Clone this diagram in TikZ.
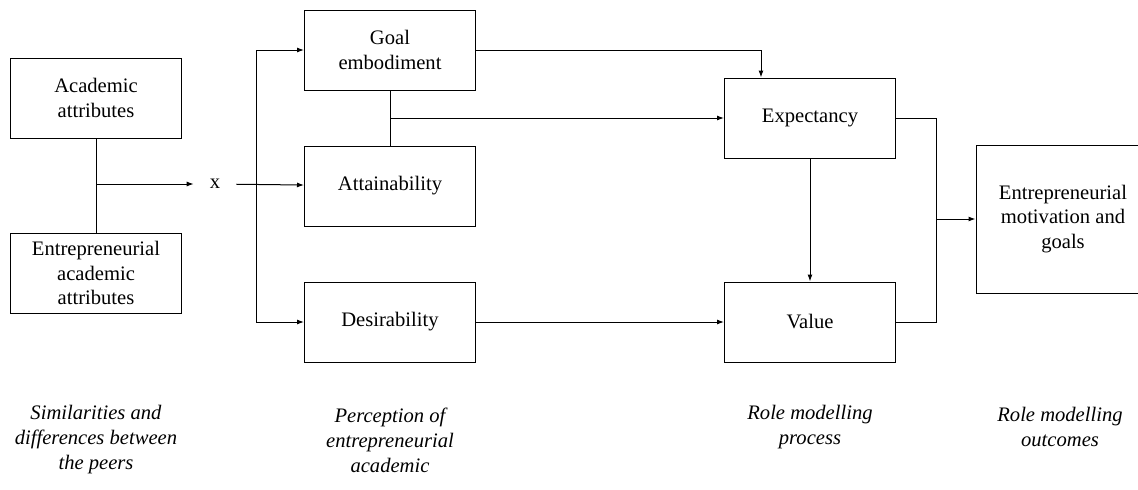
\documentclass[tikz,border=0pt]{standalone}
\usepackage{fontspec}
\setmainfont{Liberation Serif}
\usetikzlibrary{arrows.meta}
\begin{document}
\begin{tikzpicture}
[x=1pt,y=-1pt,
 boxdecorate/.style={shape=rectangle,draw,line width=1pt,minimum width=171pt,
   minimum height=80pt,align=center,font=\fontsize{20.6}{24.5}\selectfont},
 linedecorate/.style={-,line width=1pt},
 arrowdecorate/.style={-{Latex[length=7pt,width=5pt]},line width=1pt},
 labeldecorate/.style={align=center,font=\fontsize{20.6}{25}\selectfont\itshape}]
\useasboundingbox (0,0) rectangle (1138,490);
%%
%% boxes
\foreach \nodename/\x/\y/\nodetext in {academic/96/98/{Academic\\attributes},
  entrepreneurial/96/273/{Entrepreneurial\\academic\\attributes},
  goal/390/50/{Goal\\embodiment}, attain/390/186/{Attainability},
  desire/390/322/{Desirability}, expect/810/118/{Expectancy},
  value/810/322/{Value}} {
  \node (\nodename) at (\x,\y) [boxdecorate] {\nodetext};
}
\node (outcome) at (1063,219) [boxdecorate,minimum width=174pt,minimum height=148pt]
  {Entrepreneurial\\motivation and\\goals};
\node (cross) at (215,184) [font=\fontsize{20.6}{24}\selectfont,inner xsep=16pt] {x};
%%
%% junctions
\coordinate (bustop) at (256,50);
\coordinate (busbot) at (256,322);
\coordinate (gajoin) at (390,118);
\coordinate (goalturn) at (761,50);
\coordinate (merge) at (936,219);
%%
%% lines
\draw[linedecorate] (academic.south) -- (entrepreneurial.north);
\draw[linedecorate] (bustop) -- (busbot);
\draw[linedecorate] (goal.south) -- (attain.north);
\draw[linedecorate] (expect.east) -| (merge);
\draw[linedecorate] (value.east) -| (merge);
%% arrows
\path
\foreach \startnode/\endnode in {academic.south |- cross/cross, cross/attain,
  bustop/goal, busbot/desire, gajoin/expect.west, desire/value,
  expect/value, merge/outcome.west} {
  (\startnode) edge[arrowdecorate] (\endnode)
};
\draw[arrowdecorate] (goal.east) -- (goalturn) -- (goalturn |- expect.north);
%%
%% stage labels
\foreach \nodename/\x/\y/\nodetext in {similar/96/440/{Similarities and\\differences between\\the peers},
  percept/390/440/{Perception of\\entrepreneurial\\academic},
  process/810/427/{Role modelling\\process},
  outcomes/1060/427/{Role modelling\\outcomes}} {
  \node (\nodename) at (\x,\y) [labeldecorate] {\nodetext};
}
\end{tikzpicture}
\end{document}
